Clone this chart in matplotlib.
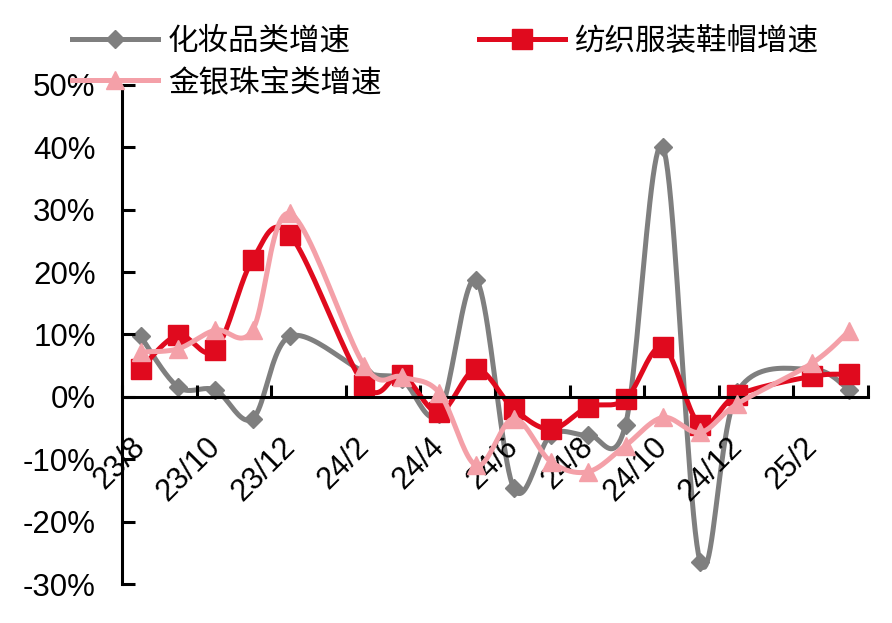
import numpy as np
import matplotlib
matplotlib.use("Agg")
import matplotlib.pyplot as plt
from matplotlib.lines import Line2D
from matplotlib.ticker import FuncFormatter
from matplotlib.transforms import ScaledTranslation

plt.rcParams['font.family'] = ['Liberation Sans', 'Noto Sans CJK SC', 'DejaVu Sans']

months = ["23/8", "23/9", "23/10", "23/11", "23/12", "24/1", "24/2", "24/3", "24/4",
          "24/5", "24/6", "24/7", "24/8", "24/9", "24/10", "24/11", "24/12", "25/1",
          "25/2", "25/3"]
cosmetics = [9.7, 1.6, 1.1, -3.5, 9.7, None, 4.0, 2.8, -2.7, 18.7, -14.6, -6.1, -6.1,
             -4.5, 40.1, -26.4, 0.8, None, 4.4, 1.1]
apparel = [4.5, 9.9, 7.5, 22.0, 26.0, None, 1.9, 3.5, -2.5, 4.4, -1.9, -5.2, -1.6,
           -0.4, 8.0, -4.5, 0.3, None, 3.3, 3.6]
jewelry = [7.2, 7.7, 10.7, 10.7, 29.4, None, 5.0, 3.2, 0.7, -11.0, -3.5, -10.4, -12.0,
           -7.8, -3.3, -5.7, -1.1, None, 5.4, 10.6]
names = ["化妆品类增速", "纺织服装鞋帽增速", "金银珠宝类增速"]


def smooth(xs, ys, n=24):
    # Excel style smoothed line: cubic bezier through the points
    px, py = [], []
    m = len(xs)
    for i in range(m - 1):
        x0, y0 = (xs[i - 1], ys[i - 1]) if i > 0 else (xs[i], ys[i])
        x1, y1 = xs[i], ys[i]
        x2, y2 = xs[i + 1], ys[i + 1]
        x3, y3 = (xs[i + 2], ys[i + 2]) if i + 2 < m else (x2, y2)
        c1x, c1y = x1 + (x2 - x0) / 6, y1 + (y2 - y0) / 6
        c2x, c2y = x2 - (x3 - x1) / 6, y2 - (y3 - y1) / 6
        t = np.linspace(0, 1, n)
        a, b, c, d = (1 - t) ** 3, 3 * (1 - t) ** 2 * t, 3 * (1 - t) * t ** 2, t ** 3
        px.extend(a * x1 + b * c1x + c * c2x + d * x2)
        py.extend(a * y1 + b * c1y + c * c2y + d * y2)
    return np.array(px), np.array(py)


fig = plt.figure(figsize=(8.92, 6.23), dpi=100)
ax = fig.add_axes([0.1368, 0.0626, 0.8362, 0.801])

series = [
    (cosmetics, "#7f7f7f", "D", 9, 1),
    (apparel, "#e00a1e", "s", 14, 2),
    (jewelry, "#f4a0a8", "^", 13, 3),
]
handles = []
for (vals, col, mk, ms, z), name in zip(series, names):
    xs = [i for i, v in enumerate(vals) if v is not None]
    ys = [v for v in vals if v is not None]
    sx, sy = smooth(xs, ys)
    ax.plot(sx, sy, color=col, lw=3.6, zorder=z, solid_capstyle='round')
    ax.plot(xs, ys, ls='none', marker=mk, ms=ms, color=col, zorder=z, clip_on=False)
    handles.append(Line2D([], [], color=col, lw=3.6, marker=mk, ms=ms, label=name))

ax.set_xlim(-0.5, len(months) - 0.5)
ax.set_ylim(-30, 50)
ax.set_yticks(np.arange(-30, 51, 10))
ax.yaxis.set_major_formatter(FuncFormatter(lambda v, p: "%d%%" % v))

ax.spines['top'].set_visible(False)
ax.spines['right'].set_visible(False)
ax.spines['bottom'].set_position(('data', 0))
ax.spines['left'].set_linewidth(2.2)
ax.spines['bottom'].set_linewidth(2.2)

ax.set_xticks(np.arange(-0.5, len(months), 2))
ax.set_xticklabels([])
ax.set_xticks(np.arange(0, len(months), 2), minor=True)
ax.set_xticklabels(months[::2], minor=True, rotation=45, ha='right', va='top',
                   rotation_mode='anchor', fontsize=22)
ax.tick_params(axis='x', which='major', direction='in', length=9, width=2.2)
ax.tick_params(axis='x', which='minor', length=0, pad=25)
ax.tick_params(axis='y', direction='in', length=9, width=2.2, labelsize=22.5, pad=19)
shift = ScaledTranslation(-10 / 100, 0, fig.dpi_scale_trans)
for lab in ax.get_xticklabels(minor=True):
    lab.set_transform(lab.get_transform() + shift)

leg_h = [handles[0], handles[2], handles[1]]
fig.legend(handles=leg_h, labels=[h.get_label() for h in leg_h], ncol=2,
           loc='upper left', bbox_to_anchor=(0.081, 0.959), frameon=False,
           borderpad=0, borderaxespad=0,
           prop={'family': ['Noto Sans CJK SC'], 'size': 22},
           handlelength=2.8, handletextpad=0.33, columnspacing=3.2, labelspacing=0.34)

fig.savefig("out.png", dpi=100)
